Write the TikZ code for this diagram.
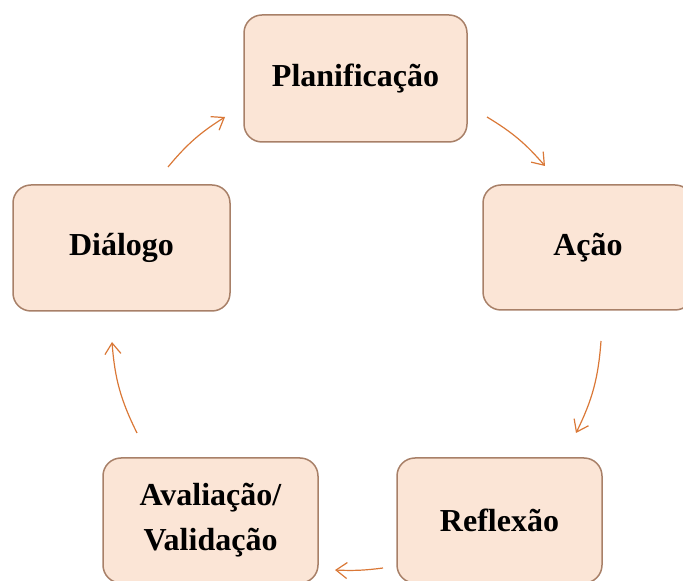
\documentclass[tikz,border=0pt]{standalone}
\usepackage{fontspec}
\setmainfont{Liberation Serif}
\usetikzlibrary{arrows.meta}
\definecolor{boxfill}{RGB}{251,229,214}
\definecolor{boxline}{RGB}{168,128,104}
\definecolor{arrowc}{RGB}{218,120,55}
\tikzset{
  stagebox/.style={draw=boxline, line width=1.5pt, fill=boxfill, rounded corners=18pt,
    inner sep=0pt, align=center, font=\fontsize{32}{45}\selectfont\bfseries},
  cyclearrow/.style={draw=arrowc, line width=1.2pt,
    -{Straight Barb[length=11pt,width=16pt,line width=1.2pt]}}
}
\begin{document}
\begin{tikzpicture}[x=1pt,y=1pt]
\useasboundingbox (0,0) rectangle (683,581);
\clip (0,0) rectangle (683,581);
\node[stagebox, minimum width=223pt, minimum height=127pt] (plan) at (355.5,502.5) {Planificação};
\node[stagebox, minimum width=210pt, minimum height=125pt] (acao) at (588,333.5) {Ação};
\node[stagebox, minimum width=205pt, minimum height=125pt] (refl) at (499.5,60.5) {Reflexão};
\node[stagebox, minimum width=215pt, minimum height=125pt] (aval) at (210.5,60.5) {Avaliação/\\Validação};
\node[stagebox, minimum width=217pt, minimum height=126pt] (dial) at (121.5,333) {Diálogo};
\coordinate (a1s) at (168,414);
\coordinate (a1e) at (225,464);
\coordinate (a2s) at (487,464);
\coordinate (a2e) at (545,415);
\coordinate (a3s) at (601,240);
\coordinate (a3e) at (576,148);
\coordinate (a4s) at (383,13);
\coordinate (a4e) at (335,11);
\coordinate (a5s) at (137,148);
\coordinate (a5e) at (112,239);
\draw[cyclearrow] (a1s) to[bend left=9] (a1e);
\draw[cyclearrow] (a2s) to[bend left=9] (a2e);
\draw[cyclearrow] (a3s) to[bend left=11] (a3e);
\draw[cyclearrow] (a4s) to[bend left=5] (a4e);
\draw[cyclearrow] (a5s) to[bend left=11] (a5e);
\end{tikzpicture}
\end{document}
